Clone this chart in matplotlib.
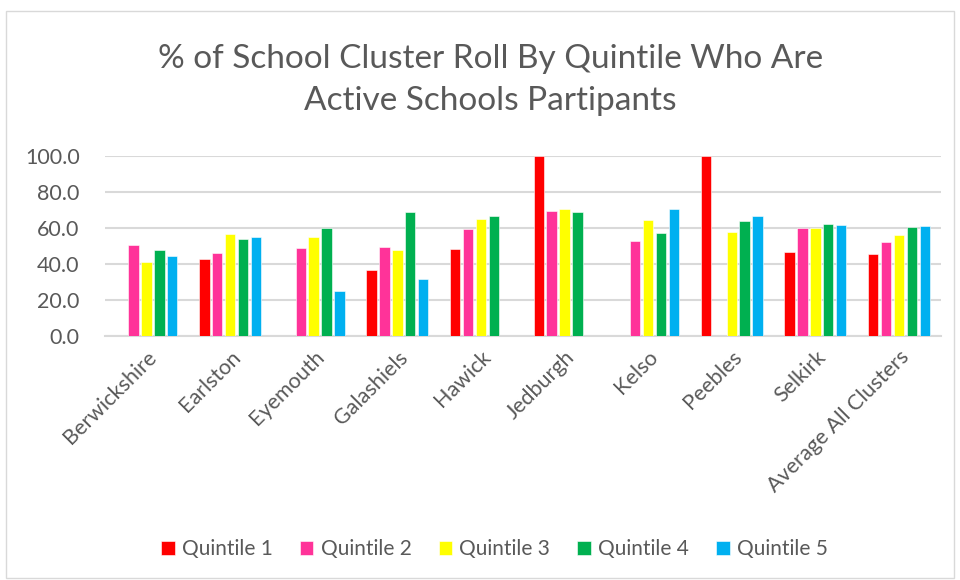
import numpy as np
import matplotlib
matplotlib.use("Agg")
import matplotlib.pyplot as plt
from matplotlib.patches import Rectangle

plt.rcParams['font.family'] = ['Lato', 'DejaVu Sans']

categories = ["Berwickshire", "Earlston", "Eyemouth", "Galashiels", "Hawick",
              "Jedburgh", "Kelso", "Peebles", "Selkirk", "Average All Clusters"]
nan = np.nan
q1 = [nan, 42.6, nan, 36.5, 48.3, 100.0, nan, 100.0, 46.7, 45.4]
q2 = [50.4, 46.1, 48.7, 49.6, 59.3, 69.3, 52.8, nan, 60.0, 52.2]
q3 = [41.1, 56.5, 55.0, 47.8, 65.0, 70.6, 64.4, 57.8, 60.0, 56.3]
q4 = [48.0, 53.9, 60.0, 68.9, 66.5, 68.9, 57.4, 63.9, 62.4, 60.6]
q5 = [44.4, 55.0, 24.8, 31.5, nan, nan, 70.6, 66.7, 61.5, 61.1]
series_names = ["Quintile 1", "Quintile 2", "Quintile 3", "Quintile 4", "Quintile 5"]
series = [q1, q2, q3, q4, q5]
colors = ["#FF0000", "#FF3399", "#FFFF00", "#00B050", "#00B0F0"]
yticks = [0, 20, 40, 60, 80, 100]

text_color = "#595959"
fig = plt.figure(figsize=(9.6, 5.8), dpi=100)
fig.patches.append(Rectangle((0.006, 0.003), 0.988, 0.978, transform=fig.transFigure,
                             fill=False, edgecolor="#D9D9D9", linewidth=1.0))
ax = fig.add_axes([0.109, 0.4207, 0.871, 0.3103])

x = np.arange(len(categories))
slot = 0.154
width = 0.125
for i, (vals, name, c) in enumerate(zip(series, series_names, colors)):
    ax.bar(x + (i - 2) * slot, vals, width=width, color=c, label=name,
           edgecolor="white", linewidth=0.4, zorder=3)

ax.set_xlim(-0.5, len(categories) - 0.5)
ax.set_ylim(0, 100)
ax.set_yticks(yticks)
ax.set_yticklabels([f"{v:.1f}" for v in yticks], fontsize=15.5, color=text_color)
ax.yaxis.grid(True, color="#D9D9D9", linewidth=1.5, zorder=0)
ax.tick_params(axis='y', length=0, pad=18)
ax.set_xticks(x)
ax.set_xticklabels(categories, rotation=45, ha='right', rotation_mode='anchor',
                   fontsize=15.5, color=text_color)
ax.tick_params(axis='x', length=0, pad=8)
for s in ["top", "right", "left"]:
    ax.spines[s].set_visible(False)
ax.spines["bottom"].set_color("#D9D9D9")
ax.spines["bottom"].set_linewidth(1.5)

fig.text(0.511, 0.862, "% of School Cluster Roll By Quintile Who Are\nActive Schools Partipants",
         ha='center', va='center', fontsize=24, color=text_color, linespacing=1.5)

handles, labels = ax.get_legend_handles_labels()
fig.legend(handles, labels, loc='center', bbox_to_anchor=(0.515, 0.053), ncol=5,
           frameon=False, fontsize=15, handlelength=0.65, handleheight=0.65,
           columnspacing=1.3, handletextpad=0.35, labelcolor=text_color)

fig.savefig("out.png", dpi=100)
